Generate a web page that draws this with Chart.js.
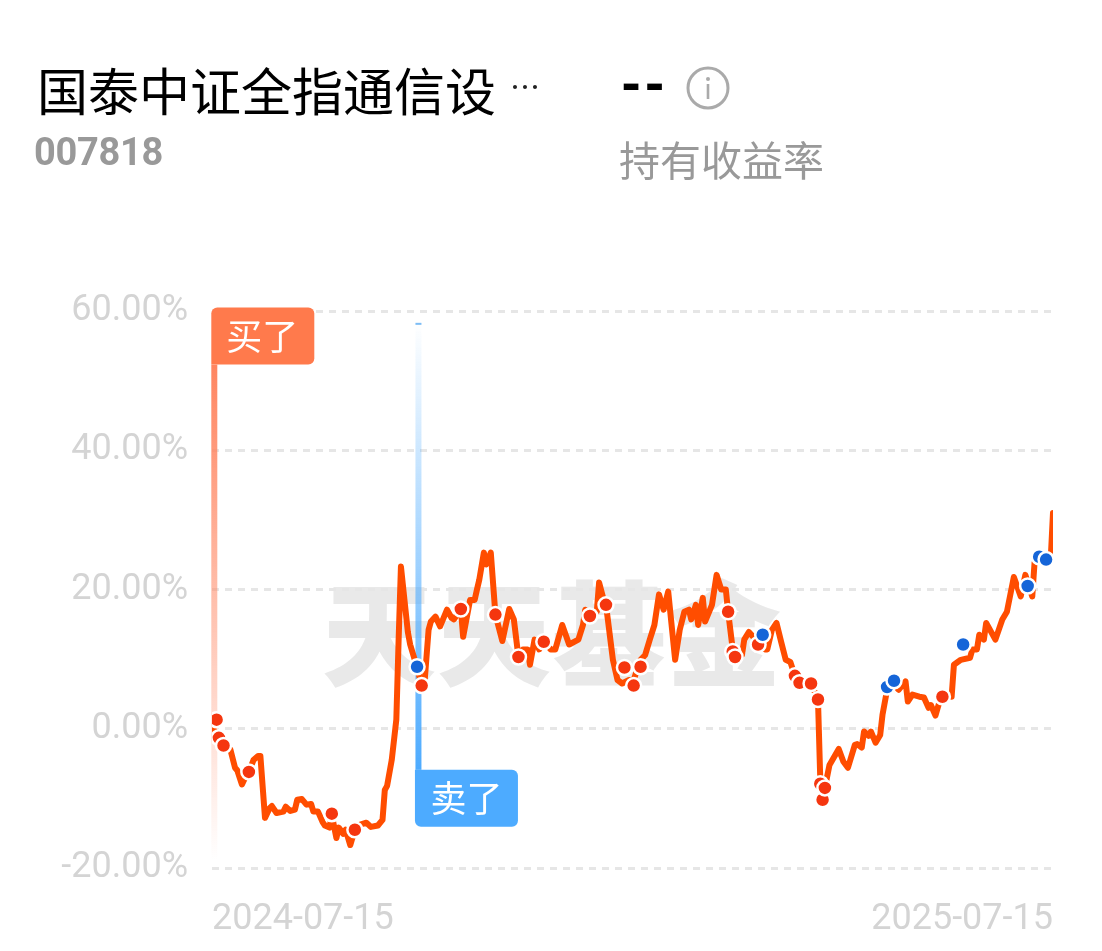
<!DOCTYPE html>
<html lang="zh"><head><meta charset="utf-8">
<script src="https://cdn.jsdelivr.net/npm/chart.js@4/dist/chart.umd.min.js"></script>
<style>
html,body{margin:0;padding:0;background:#fff;width:1102px;height:951px;overflow:hidden}
#wrap{position:relative;width:1102px;height:951px;font-family:"Noto Sans CJK SC","Noto Sans",sans-serif}
.t{position:absolute;white-space:nowrap;line-height:1}
canvas{position:absolute;left:0;top:0}
</style></head><body>
<div id="wrap">
<div class="t" id="wm" style="left:322px;top:571px;font-size:114px;font-weight:900;color:#e9e9e9;letter-spacing:1px">天天基金</div>
<canvas id="c" width="1102" height="951" style="width:1102px;height:951px"></canvas>
<div class="t" style="left:37px;top:64px;font-size:51px;color:#000">国泰中证全指通信设</div>
<div class="t" style="left:510px;top:70px;font-size:30px;color:#222">…</div>
<div class="t" style="left:34px;top:133px;font-size:38px;font-weight:700;color:#999;font-family:Roboto,sans-serif;letter-spacing:-.3px">007818</div>
<div class="t" style="left:620px;top:60px;font-size:50px;font-weight:900;color:#000;font-family:Roboto,sans-serif;letter-spacing:1px">--</div>
<svg style="position:absolute;left:686px;top:66px" width="44" height="44" viewBox="0 0 44 44"><circle cx="22" cy="22" r="20" fill="none" stroke="#aaa" stroke-width="3"/><circle cx="22" cy="13" r="2" fill="#aaa"/><rect x="20.7" y="18" width="2.6" height="15" fill="#aaa"/></svg>
<div class="t" style="left:619px;top:138px;font-size:41px;color:#999">持有收益率</div>
</div>
<script>
const dateLabels = ["2024-07-15","2025-07-15"];
const yTicks = [-20,0,20,40,60];
const dayOffsets = [0,2,3,5,8,10,11,13,15,16,18,20,21,23,25,26,28,31,32,34,36,37,39,41,43,44,46,48,49,51,52,54,55,57,58,60,62,64,67,69,72,74,75,76,78,80,81,82,85,86,88,89,91,92,94,95,97,99,102,104,105,108,109,112,114,115,116,118,119,121,123,126,129,131,133,135,137,138,140,142,144,147,149,152,155,159,161,162,164,167,168,170,171,174,176,178,181,183,186,188,190,192,194,196,198,201,203,205,207,208,210,211,213,214,217,219,221,223,224,226,227,230,231,233,236,237,240,241,243,245,247,249,251,253,255,257,260,263,264,265,266,268,272,274,276,279,280,282,283,285,286,288,290,291,293,296,298,301,302,304,307,309,311,312,314,316,317,321,322,325,329,330,332,333,335,336,340,343,345,348,351,353,356,357,360,364,365];
const returns = [0.4,-0.9,-1.3,-2.4,-3.0,-5.6,-6.0,-8.0,-6.6,-6.2,-4.5,-3.9,-3.9,-12.8,-11.4,-11.1,-12.1,-11.9,-11.2,-11.8,-11.6,-10.2,-10.1,-10.9,-10.8,-11.9,-11.9,-13.4,-13.9,-14.2,-12.4,-15.7,-14.2,-15.1,-14.5,-16.7,-14.5,-13.8,-13.5,-14.1,-13.9,-13.1,-8.8,-8.2,-4.5,1.3,12.8,23.3,13.9,12.1,9.9,8.8,6.2,5.6,14.2,15.4,16.1,14.7,17.1,15.9,15.7,17.2,13.2,18.5,18.5,20.0,21.4,25.3,23.6,25.3,16.4,12.6,17.2,15.7,10.3,11.4,11.4,9.2,12.8,11.4,12.5,11.4,11.4,14.9,12.1,12.8,14.9,17.1,16.2,16.8,21.0,18.5,17.8,9.9,7.0,6.5,7.0,7.0,9.9,10.6,12.8,14.9,19.3,17.1,19.7,9.9,14.2,16.8,17.1,15.7,17.8,14.9,18.8,15.4,17.8,22.1,20.0,20.0,16.8,11.4,10.3,10.6,12.8,13.9,12.8,12.1,11.4,11.4,14.2,15.2,12.5,9.9,9.6,7.6,6.6,6.6,6.5,4.2,-7.3,-10.2,-8.5,-5.2,-2.9,-4.7,-5.6,-2.3,-2.2,-2.7,-0.4,-1.0,-0.4,-2.0,-0.9,2.0,5.6,6.3,5.6,6.8,3.9,4.9,4.6,4.5,3.0,3.4,1.9,4.2,4.6,4.6,9.2,9.9,10.2,11.4,11.4,13.5,12.8,15.2,12.8,15.7,16.8,21.8,19.0,22.1,19.0,23.9,24.3,24.3,31.0];
const buyDays = [2,3,5,16,52,62,91,108,123,133,144,164,171,179,183,186,224,226,227,237,253,255,260,263,264,265,266,317];
const buyValues = [1.3,-1.3,-2.4,-6.2,-12.2,-14.5,6.2,17.2,16.4,10.3,12.5,16.2,17.8,8.8,6.2,8.9,16.8,11.1,10.3,12.1,7.6,6.6,6.5,4.2,-7.9,-10.2,-8.5,4.6];
const sellDays = [89,239,293,296,326,354,359,362];
const sellValues = [8.9,13.5,6.0,6.9,12.1,20.5,24.7,24.3];
const buyFlag = {day:1, top:52.3, bottom:-18.8, text:"买了"};
const sellFlag = {day:89.6, top:58.3, bottom:-5.9, text:"卖了"};

function pts(xs,ys){return xs.map((x,i)=>({x:x,y:ys[i]}));}
function rr(ctx,x,y,w,h,r){ctx.beginPath();ctx.roundRect(x,y,w,h,r);ctx.fill();}
const flags={id:'flags',beforeDatasetsDraw(ch){
  const ctx=ch.ctx,X=ch.scales.x,Y=ch.scales.y;ctx.save();
  // buy
  let x=X.getPixelForValue(buyFlag.day),t=Y.getPixelForValue(buyFlag.top),b=Y.getPixelForValue(buyFlag.bottom);
  let g=ctx.createLinearGradient(0,t,0,b);g.addColorStop(0,'#ff8560');g.addColorStop(1,'rgba(255,133,96,0)');
  ctx.fillStyle=g;ctx.fillRect(x-3,t,6,b-t);
  ctx.fillStyle='#ff7a4c';rr(ctx,x-3,t-57,103,57,[6,6,6,0]);
  ctx.fillStyle='#fff';ctx.font='36px "Noto Sans CJK SC"';ctx.textAlign='center';ctx.textBaseline='middle';
  ctx.fillText(buyFlag.text,x+48,t-28);
  // sell
  x=X.getPixelForValue(sellFlag.day);t=Y.getPixelForValue(sellFlag.top);b=Y.getPixelForValue(sellFlag.bottom);
  g=ctx.createLinearGradient(0,t,0,b);g.addColorStop(0,'rgba(77,171,255,0)');g.addColorStop(1,'#4dabff');
  ctx.fillStyle=g;ctx.fillRect(x-3,t,6,b-t);
  ctx.fillStyle='#7dbdf5';ctx.fillRect(x-3,t,6,2);
  ctx.fillStyle='#4dabff';rr(ctx,x-3.5,b,103,57,[0,6,6,6]);
  ctx.fillStyle='#fff';ctx.fillText(sellFlag.text,x+48,b+28);
  ctx.restore();
}};
new Chart(document.getElementById('c'),{
  type:'line',
  data:{datasets:[
    {label:'卖了',type:'scatter',data:pts(sellDays,sellValues),order:1,pointRadius:7.5,pointHoverRadius:7.5,backgroundColor:'#1565d8',borderColor:'#fff',borderWidth:2.5},
    {label:'买了',type:'scatter',data:pts(buyDays,buyValues),order:2,pointRadius:7.5,pointHoverRadius:7.5,backgroundColor:'#f5360f',borderColor:'#fff',borderWidth:2.5},
    {label:'收益率',data:pts(dayOffsets,returns),order:3,borderColor:'#ff4d00',borderWidth:6,pointRadius:0,tension:0,borderCapStyle:'round',borderJoinStyle:'round',fill:false}
  ]},
  plugins:[flags],
  options:{
    responsive:false,animation:false,devicePixelRatio:1,
    layout:{padding:{left:0,right:49,top:311,bottom:0}},
    plugins:{legend:{display:false},tooltip:{enabled:false}},
    events:[],
    scales:{
      x:{type:'linear',min:0,max:365,
        afterBuildTicks(s){s.ticks=[{value:0},{value:365}];},
        afterFit(s){s.height=83;},
        grid:{display:false},border:{display:false},
        ticks:{align:'inner',maxRotation:0,autoSkip:false,padding:22,color:'#d4d4d4',font:{family:'Roboto',size:36},
          callback(v){return v===0?dateLabels[0]:dateLabels[1];}}},
      y:{type:'linear',min:-20,max:60,
        afterBuildTicks(s){s.ticks=yTicks.map(v=>({value:v}));},
        afterFit(s){s.width=212;},
        grid:{color:'#e6e6e6',lineWidth:3,drawTicks:false},border:{display:false,dash:[7,6]},
        ticks:{padding:24,color:'#d4d4d4',font:{family:'Roboto',size:36},callback(v){return v.toFixed(2)+'%';}}}
    }
  }
});
</script>
</body></html>
